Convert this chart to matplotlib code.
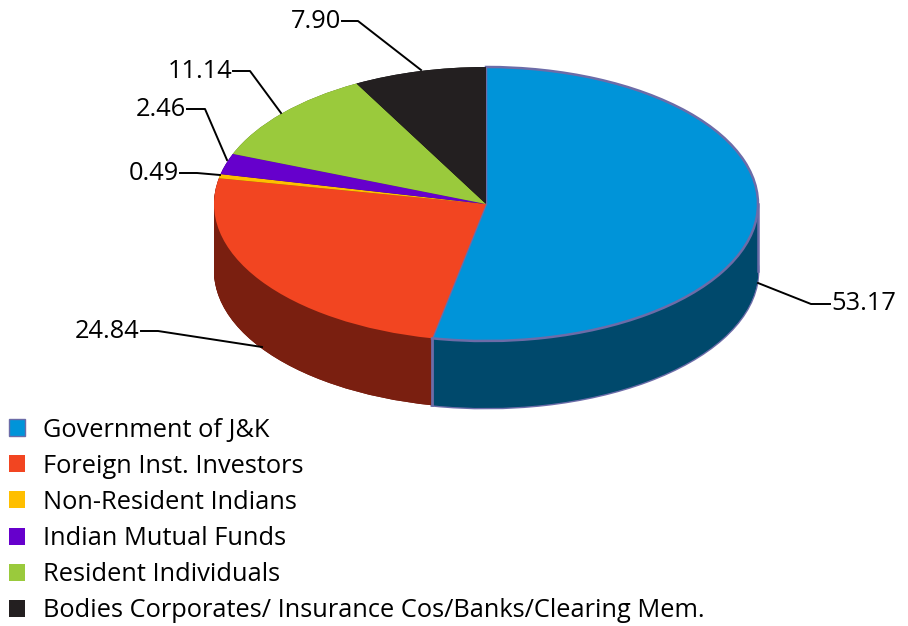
import numpy as np
import matplotlib
matplotlib.use("Agg")
import matplotlib.pyplot as plt

categories = ["Government of J&K", "Foreign Inst. Investors", "Non-Resident Indians",
              "Indian Mutual Funds", "Resident Individuals",
              "Bodies Corporates/ Insurance Cos/Banks/Clearing Mem."]
values = [53.17, 24.84, 0.49, 2.46, 11.14, 7.90]
value_labels = ["53.17", "24.84", "0.49", "2.46", "11.14", "7.90"]
top_colors = ["#0094D9", "#F24521", "#FFBF00", "#6600CC", "#9ACA3C", "#231F20"]
side_colors = ["#00496C", "#7A1F10", "#7F5F00", "#330066", "#4D651E", "#111010"]
outline = "#6C6CA8"

W, H = 908, 626
CX, CY, RX, RY = 486, 204, 272, 137
DEPTH = 67 / RY
# leader line pixel paths, same order as values, and where the text sits
leaders = [[(758, 283), (811, 304), (830, 304)],
           [(262, 347), (158, 331), (141, 331)],
           [(220, 175), (197, 173), (180, 173)],
           [(227, 160), (205, 109), (187, 109)],
           [(281, 113), (250, 71), (233, 71)],
           [(421, 70), (358, 21), (342, 21)]]
text_pos = [(831, 304, "left"), (140, 331, "right"), (179, 173, "right"),
            (186, 109, "right"), (232, 71, "right"), (341, 21, "right")]

plt.rcParams["font.family"] = ["Open Sans", "DejaVu Sans"]
fig = plt.figure(figsize=(W / 100, H / 100), dpi=100)
ax = fig.add_axes([0, 0, 1, 1])


def pie(colors, offset=0.0, edge="none", lw=0):
    wedges, _ = ax.pie(values, colors=colors, startangle=90, counterclock=False,
                       center=(0, -offset), radius=1,
                       wedgeprops={"edgecolor": edge, "linewidth": lw})
    return wedges


# the side wall is the pie repeated downwards in the dark colours
bottom = pie(side_colors, DEPTH)
bottom[0].set_edgecolor(outline)
bottom[0].set_linewidth(2.0)
for off in np.linspace(DEPTH, 0, 80):
    pie(side_colors, off)
top = pie(top_colors)
top[0].set_edgecolor(outline)
top[0].set_linewidth(1.8)

# outline of the blue wall at its two ends
end_angle = 2 * np.pi * values[0] / sum(values)
ax.plot([np.sin(end_angle)] * 2, [np.cos(end_angle), np.cos(end_angle) - DEPTH],
        color=outline, lw=2.0)
ax.plot([1, 1], [0, -DEPTH], color=outline, lw=1.8)

ax.set_aspect("auto")
ax.set_xlim((0 - CX) / RX, (W - CX) / RX)
ax.set_ylim((CY - H) / RY, CY / RY)
ax.axis("off")


def to_fig(x, y):
    return x / W, 1 - y / H


for path, pos, lab in zip(leaders, text_pos, value_labels):
    xs, ys = zip(*[to_fig(*p) for p in path])
    fig.add_artist(plt.Line2D(xs, ys, color="black", lw=1.4))
    fx, fy = to_fig(pos[0], pos[1])
    fig.text(fx, fy, lab, ha=pos[2], va="center", fontsize=18.3, color="black")

fs = 18.25
leg = ax.legend(top, categories, loc="upper left", bbox_to_anchor=to_fig(8.5, 417.5),
                bbox_transform=fig.transFigure, frameon=False, fontsize=fs,
                borderpad=0, borderaxespad=0, handlelength=12 / fs,
                handleheight=12 / fs, handletextpad=0.72, labelspacing=0.44)
leg.legend_handles[0].set_linewidth(1.0)

fig.savefig("out.png", dpi=100)
